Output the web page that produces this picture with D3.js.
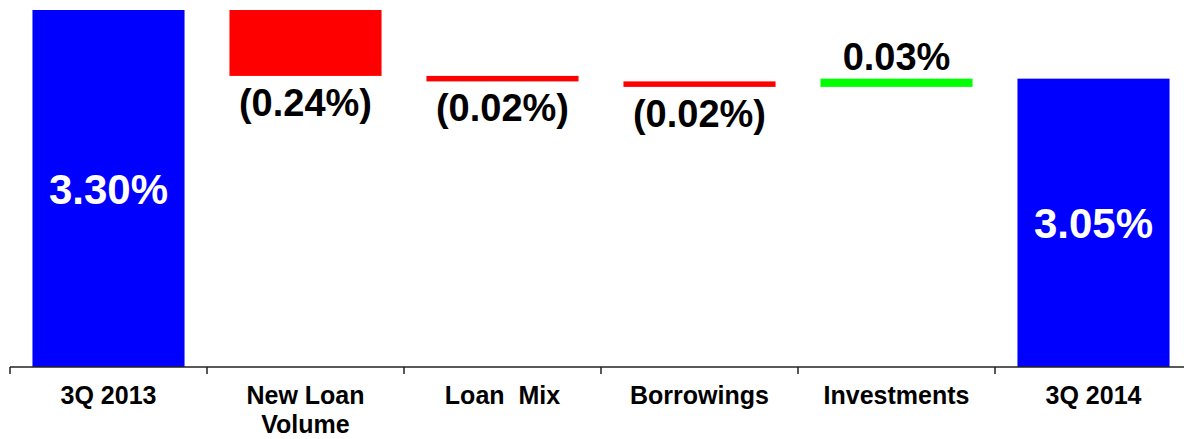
<!DOCTYPE html>
<html>
<head>
<meta charset="utf-8">
<script src="https://cdn.jsdelivr.net/npm/d3@7"></script>
<style>
  html, body { margin: 0; padding: 0; background: #fff; }
  svg { display: block; font-family: "Liberation Sans", Arial, sans-serif; font-weight: bold; }
</style>
</head>
<body>
<svg id="chart" width="1184" height="439"></svg>
<script>
// Net interest margin walk, 3Q 2013 to 3Q 2014 (percent)
const categories = ["3Q 2013", "New Loan\nVolume", "Loan  Mix", "Borrowings", "Investments", "3Q 2014"];
const kinds      = ["total", "delta", "delta", "delta", "delta", "total"];
const values     = [3.30, -0.24, -0.02, -0.02, 0.03, 3.05];
const labels     = ["3.30%", "(0.24%)", "(0.02%)", "(0.02%)", "0.03%", "3.05%"];

const W = 1184, H = 439;
const axisY = 367;
const svg = d3.select("#chart");

// Floating segments: totals start at the axis floor, deltas hang from the running total
const yFloor = 2.0;
let running = 0;
const bars = categories.map((c, i) => {
  let lo, hi;
  if (kinds[i] === "total") {
    running = values[i];
    lo = yFloor; hi = values[i];
  } else {
    const start = running;
    running = start + values[i];
    lo = Math.min(start, running); hi = Math.max(start, running);
  }
  return { cat: c, kind: kinds[i], value: values[i], label: labels[i], lo, hi };
});

const x = d3.scaleBand().domain(categories).range([10, 10 + 197 * categories.length]).padding(0);
const y = d3.scaleLinear().domain([yFloor, 3.30]).range([axisY, 10]);

const barW = x.bandwidth() * 0.772;
const colorOf = d => d.kind === "total" ? "#0000ff" : (d.value < 0 ? "#ff0000" : "#00ff00");

svg.append("g").selectAll("rect").data(bars).join("rect")
  .attr("x", d => x(d.cat) + (x.bandwidth() - barW) / 2)
  .attr("width", barW)
  .attr("y", d => y(d.hi))
  .attr("height", d => y(d.lo) - y(d.hi))
  .attr("fill", colorOf);

// Value labels
const lab = svg.append("g");
bars.forEach(d => {
  const cx = x(d.cat) + x.bandwidth() / 2;
  if (d.kind === "total") {
    lab.append("text")
      .attr("x", cx)
      .attr("y", (y(d.hi) + y(d.lo)) / 2 + 15)
      .attr("text-anchor", "middle")
      .attr("fill", "#fff")
      .attr("font-size", 42)
      .text(d.label);
  } else if (d.value < 0) {
    lab.append("text")
      .attr("x", cx)
      .attr("y", y(d.lo) + 40)
      .attr("text-anchor", "middle")
      .attr("fill", "#000")
      .attr("font-size", 38)
      .text(d.label);
  } else {
    lab.append("text")
      .attr("x", cx)
      .attr("y", y(d.hi) - 9)
      .attr("text-anchor", "middle")
      .attr("fill", "#000")
      .attr("font-size", 38)
      .text(d.label);
  }
});

// Category axis: baseline with ticks at band boundaries
const ax = svg.append("g");
ax.append("line")
  .attr("x1", x.range()[0]).attr("x2", W)
  .attr("y1", axisY).attr("y2", axisY)
  .attr("stroke", "#222").attr("stroke-width", 1.5);
const edges = categories.map(c => x(c)).concat([x(categories[categories.length - 1]) + x.bandwidth()]);
ax.selectAll("line.tick").data(edges).join("line")
  .attr("class", "tick")
  .attr("x1", d => d).attr("x2", d => d)
  .attr("y1", axisY).attr("y2", axisY + 7)
  .attr("stroke", "#222").attr("stroke-width", 1.5);

categories.forEach(c => {
  const t = ax.append("text")
    .attr("x", x(c) + x.bandwidth() / 2)
    .attr("y", 404)
    .attr("text-anchor", "middle")
    .attr("fill", "#000")
    .attr("font-size", 25)
    .style("white-space", "pre");
  c.split("\n").forEach((line, j) => {
    t.append("tspan")
      .attr("x", x(c) + x.bandwidth() / 2)
      .attr("dy", j === 0 ? 0 : 29)
      .text(line);
  });
});
</script>
</body>
</html>
